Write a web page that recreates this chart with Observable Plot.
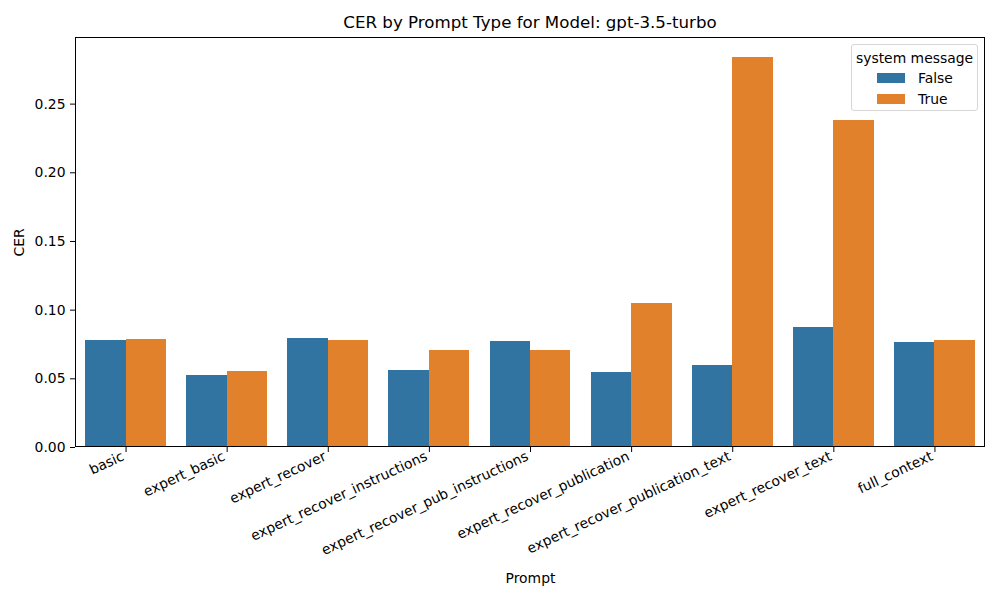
<!DOCTYPE html>
<html>
<head>
<meta charset="utf-8">
<script src="https://cdn.jsdelivr.net/npm/d3@7"></script>
<script src="https://cdn.jsdelivr.net/npm/@observablehq/plot@0.6"></script>
<style>
  html, body { margin: 0; padding: 0; background: white; }
  #wrap { position: relative; width: 1000px; height: 600px; font-family: "DejaVu Sans", sans-serif; }
  #title { height: 37px; width: 910px; margin-left: 75px; text-align: center; font-size: 16.67px; line-height: 20px; padding-top: 13px; box-sizing: border-box; color: black; }
  #frame { position: absolute; left: 75px; top: 37px; width: 910px; height: 410px; border: 1.1px solid black; box-sizing: border-box; pointer-events: none; }
  #legend { position: absolute; left: 851px; top: 44px; width: 127px; height: 67px; box-sizing: border-box; border: 1px solid #d6d6d6; border-radius: 3px; background: rgba(255,255,255,0.8); font-size: 13.9px; color: black; }
  #legend .lt { position: absolute; top: 5px; left: 0; width: 100%; text-align: center; }
  #legend .row { position: absolute; left: 25px; height: 16px; display: flex; align-items: center; }
  #legend .sw { width: 28px; height: 10px; margin-right: 13px; }
</style>
</head>
<body>
<div id="wrap">
  <div id="title"></div>
  <div id="chart"></div>
  <div id="frame"></div>
  <div id="legend"></div>
</div>
<script>
const titleText = "CER by Prompt Type for Model: gpt-3.5-turbo";
const prompts = [
  "basic",
  "expert_basic",
  "expert_recover",
  "expert_recover_instructions",
  "expert_recover_pub_instructions",
  "expert_recover_publication",
  "expert_recover_publication_text",
  "expert_recover_text",
  "full_context"
];
const systemMessage = ["False", "True"];
const cerFalse = [0.0780, 0.0525, 0.0795, 0.0561, 0.0773, 0.0547, 0.0598, 0.0875, 0.0765];
const cerTrue  = [0.0787, 0.0554, 0.0780, 0.0707, 0.0707, 0.1050, 0.2843, 0.2384, 0.0780];
const colors = ["#3274a1", "#e1812c"];
const yTicks = [0, 0.05, 0.10, 0.15, 0.20, 0.25];

const data = [];
prompts.forEach((p, i) => {
  data.push({prompt: p, sys: "False", cer: cerFalse[i]});
  data.push({prompt: p, sys: "True", cer: cerTrue[i]});
});

document.getElementById("title").textContent = titleText;

const outerPad = 910 / prompts.length * 0.1;

const chart = Plot.plot({
  width: 1000,
  height: 563,
  marginLeft: 75,
  marginRight: 15,
  marginTop: 0,
  marginBottom: 153,
  style: {fontFamily: "DejaVu Sans", fontSize: "13.9px", color: "black", background: "white", overflow: "visible"},
  fx: {domain: prompts, paddingInner: 0.2, paddingOuter: 0.1, round: false},
  x: {domain: systemMessage, padding: 0, round: false, axis: null},
  y: {domain: [0, 0.2985]},
  color: {domain: systemMessage, range: colors},
  marks: [
    Plot.barY(data, {fx: "prompt", x: "sys", y: "cer", fill: "sys", shapeRendering: "crispEdges"}),
    Plot.axisFx({anchor: "bottom", tickSize: 5, text: null, label: "Prompt", labelAnchor: "center", labelOffset: 135, labelArrow: "none"}),
    Plot.axisFx({anchor: "bottom", tickSize: 0, tickPadding: 8, dx: -3, tickRotate: -25, textAnchor: "end", label: null}),
    Plot.axisY({dx: -outerPad, ticks: yTicks, tickFormat: d3.format(".2f"), tickSize: 5, tickPadding: 5, label: "CER", labelAnchor: "center", labelOffset: 71, labelArrow: "none"})
  ]
});
document.getElementById("chart").appendChild(chart);

// legend
const leg = document.getElementById("legend");
const lt = document.createElement("div");
lt.className = "lt";
lt.textContent = "system message";
leg.appendChild(lt);
systemMessage.forEach((s, i) => {
  const row = document.createElement("div");
  row.className = "row";
  row.style.top = (25 + i * 21) + "px";
  const sw = document.createElement("div");
  sw.className = "sw";
  sw.style.background = colors[i];
  const tx = document.createElement("span");
  tx.textContent = s;
  row.appendChild(sw);
  row.appendChild(tx);
  leg.appendChild(row);
});
</script>
</body>
</html>
